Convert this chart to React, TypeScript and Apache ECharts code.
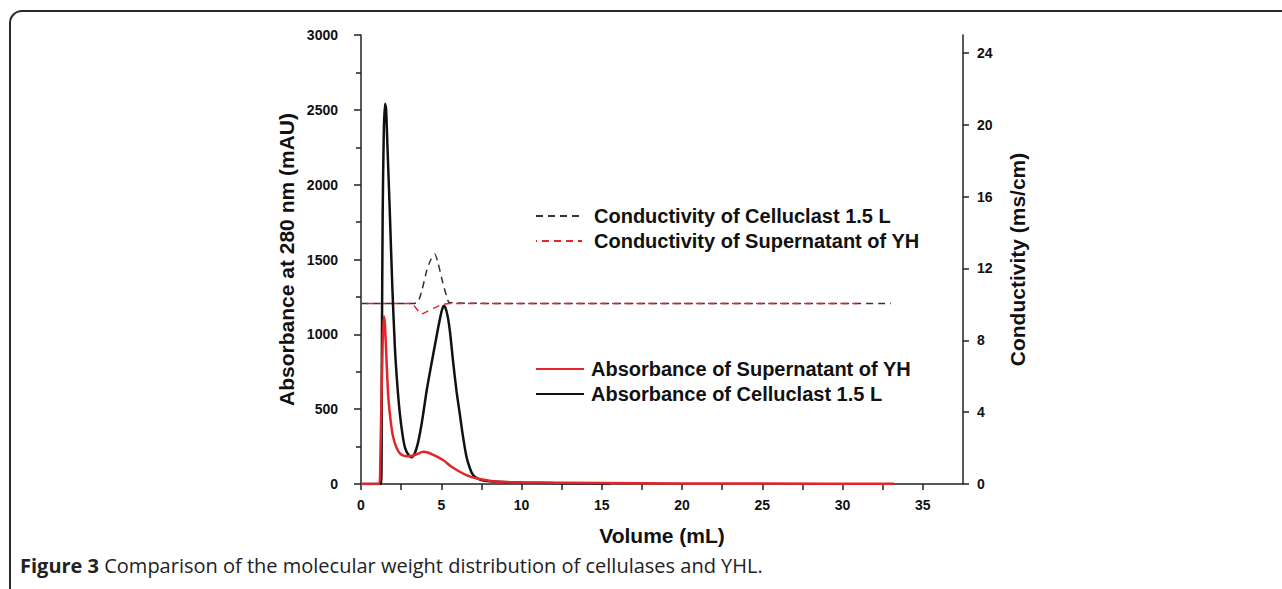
import React, { useEffect, useRef } from 'react';
import * as echarts from 'echarts';

// ---- data ----
const volAbsCelluclast = [0, 1.25, 1.3, 1.35, 1.42, 1.5, 1.56, 1.65, 1.8, 1.95, 2.11, 2.25, 2.42, 2.6, 2.75, 2.95, 3.15, 3.35, 3.56, 3.75, 3.87, 4.1, 4.4, 4.6, 4.8, 4.95, 5.05, 5.15, 5.25, 5.4, 5.55, 5.74, 5.95, 6.15, 6.35, 6.57, 6.8, 6.98, 7.3, 7.7, 8.5, 10, 12, 15.5];
const absCelluclast = [0, 0, 900, 1800, 2350, 2540, 2510, 2250, 1800, 1320, 915, 680, 470, 320, 240, 195, 178, 205, 280, 385, 465, 630, 810, 925, 1040, 1120, 1165, 1190, 1180, 1120, 1010, 815, 620, 471, 320, 182, 100, 60, 35, 22, 15, 10, 6, 3];

const volAbsYH = [0, 1.14, 1.2, 1.28, 1.35, 1.43, 1.5, 1.6, 1.7, 1.85, 2.0, 2.2, 2.42, 2.7, 3.05, 3.5, 3.87, 4.1, 4.5, 5.12, 5.6, 6.15, 6.6, 7.18, 8.0, 8.6, 10, 15, 20, 25, 33.2];
const absYH = [0, 0, 150, 600, 950, 1120, 1050, 800, 582, 420, 315, 245, 205, 188, 185, 200, 215, 212, 195, 160, 118, 82, 58, 38, 22, 15, 10, 6, 4, 3, 2];

const volCondCelluclast = [0, 3.3, 3.56, 3.8, 4.1, 4.35, 4.6, 4.8, 5.1, 5.35, 5.5, 10, 20, 33.0];
const condCelluclast = [10.05, 10.05, 10.15, 10.8, 11.9, 12.5, 12.8, 12.3, 11.2, 10.4, 10.1, 10.05, 10.05, 10.05];

const volCondYH = [0, 3.2, 3.36, 3.77, 4.1, 4.5, 5.0, 5.5, 10, 20, 30.9];
const condYH = [10.05, 10.05, 9.87, 9.47, 9.6, 9.78, 9.97, 10.05, 10.05, 10.05, 10.05];

const rightTicks = [0, 4, 8, 12, 16, 20, 24];

const NAME_COND_C = 'Conductivity of Celluclast 1.5 L';
const NAME_COND_Y = 'Conductivity of Supernatant of YH';
const NAME_ABS_Y = 'Absorbance of Supernatant of YH';
const NAME_ABS_C = 'Absorbance of Celluclast 1.5 L';

const zip = (xs: number[], ys: number[]) => xs.map((x, i) => [x, ys[i]]);

const FONT = '"Liberation Sans", Arial, Helvetica, sans-serif';
const AXIS = '#222';
const RED = '#e3242b';
const BLACK = '#111111';

export default function App() {
  const ref = useRef<HTMLDivElement>(null);
  useEffect(() => {
    const chart = echarts.init(ref.current!, null, { renderer: 'svg' });
    const titleText = { fontFamily: FONT, fontSize: 21, fontWeight: 'bold', color: '#111' };
    const tickText = { fontFamily: FONT, fontSize: 14, fontWeight: 'bold', color: '#111' };
    const hiddenSymbol = { color: 'rgba(0,0,0,0)', borderWidth: 0, opacity: 0 };
    chart.setOption({
      animation: false,
      backgroundColor: '#fff',
      textStyle: { fontFamily: FONT },
      grid: { left: 361, right: 319, top: 35, bottom: 105, containLabel: false },
      legend: [
        {
          data: [NAME_COND_C, NAME_COND_Y],
          orient: 'vertical',
          left: 535,
          top: 206,
          padding: 0,
          itemWidth: 46,
          itemHeight: 14,
          itemGap: 5,
          itemStyle: hiddenSymbol,
          textStyle: { fontFamily: FONT, fontSize: 20, fontWeight: 'bold', color: '#111', padding: [0, 0, 0, 7] },
          selectedMode: false,
        },
        {
          data: [NAME_ABS_Y, NAME_ABS_C],
          orient: 'vertical',
          left: 535,
          top: 359,
          padding: 0,
          itemWidth: 48,
          itemHeight: 14,
          itemGap: 5,
          itemStyle: hiddenSymbol,
          textStyle: { fontFamily: FONT, fontSize: 20, fontWeight: 'bold', color: '#111', padding: [0, 0, 0, 2] },
          selectedMode: false,
        },
      ],
      xAxis: {
        type: 'value',
        min: 0,
        max: 37.5,
        interval: 2.5,
        name: 'Volume (mL)',
        nameLocation: 'middle',
        nameGap: 41,
        nameTextStyle: titleText,
        axisLine: { show: true, onZero: false, lineStyle: { color: AXIS, width: 1.5 } },
        axisTick: { show: true, length: 6, lineStyle: { color: AXIS, width: 1.5 } },
        axisLabel: {
          ...tickText,
          margin: 14,
          showMaxLabel: false,
          formatter: (v: number) => (v % 5 === 0 ? String(v) : ''),
        },
        splitLine: { show: false },
      },
      yAxis: [
        {
          type: 'value',
          min: 0,
          max: 3000,
          interval: 500,
          position: 'left',
          name: 'Absorbance at 280 nm (mAU)',
          nameLocation: 'middle',
          nameGap: 64,
          nameTextStyle: titleText,
          axisLine: { show: true, lineStyle: { color: AXIS, width: 1.5 } },
          axisTick: { show: true, length: 7, lineStyle: { color: AXIS, width: 1.5 } },
          minorTick: { show: true, splitNumber: 2, length: 5, lineStyle: { color: AXIS, width: 1.5 } },
          axisLabel: { ...tickText, margin: 23, formatter: (v: number) => String(v) },
          splitLine: { show: false },
        },
        {
          type: 'value',
          min: 0,
          max: 25,
          interval: 4,
          position: 'right',
          name: 'Conductivity (ms/cm)',
          nameLocation: 'middle',
          nameGap: 44,
          nameRotate: 90,
          nameTextStyle: titleText,
          axisLine: { show: true, lineStyle: { color: AXIS, width: 1.5 } },
          axisTick: { show: true, length: 6, customValues: rightTicks, lineStyle: { color: AXIS, width: 1.5 } },
          axisLabel: {
            ...tickText,
            margin: 14,
            customValues: rightTicks,
            formatter: (v: number) => (v % 4 === 0 ? String(v) : ''),
          },
          splitLine: { show: false },
        },
      ],
      series: [
        {
          name: NAME_COND_C,
          type: 'line',
          yAxisIndex: 1,
          data: zip(volCondCelluclast, condCelluclast),
          symbol: 'none',
          smooth: 0.2,
          itemStyle: { color: '#333' },
          lineStyle: { color: '#333', width: 1.5, type: [7, 5] },
          z: 2,
        },
        {
          name: NAME_COND_Y,
          type: 'line',
          yAxisIndex: 1,
          data: zip(volCondYH, condYH),
          symbol: 'none',
          smooth: 0.2,
          itemStyle: { color: RED },
          lineStyle: { color: RED, width: 1.5, type: [7, 5], dashOffset: 6 },
          z: 2,
        },
        {
          name: NAME_ABS_C,
          type: 'line',
          yAxisIndex: 0,
          data: zip(volAbsCelluclast, absCelluclast),
          symbol: 'none',
          smooth: 0.25,
          itemStyle: { color: BLACK },
          lineStyle: { color: BLACK, width: 2.5 },
          z: 3,
        },
        {
          name: NAME_ABS_Y,
          type: 'line',
          yAxisIndex: 0,
          data: zip(volAbsYH, absYH),
          symbol: 'none',
          smooth: 0.2,
          itemStyle: { color: RED },
          lineStyle: { color: RED, width: 2.5 },
          z: 4,
        },
      ],
      graphic: [
        {
          type: 'rect',
          silent: true,
          shape: { x: 10, y: 11, width: 1400, height: 700, r: 12 },
          style: { fill: 'none', stroke: '#2a2a2a', lineWidth: 2 },
          z: 100,
        },
        {
          type: 'text',
          left: 20,
          top: 555,
          style: {
            text: '{b|Figure 3} Comparison of the molecular weight distribution of cellulases and YHL.',
            font: '20px "Open Sans", "Noto Sans", sans-serif',
            fill: '#222',
            rich: {
              b: { fontFamily: '"Open Sans", "Noto Sans", sans-serif', fontSize: 20, fontWeight: 'bold', fill: '#222' },
            },
          },
          z: 100,
        },
      ],
    });
    return () => chart.dispose();
  }, []);
  return (
    <div
      ref={ref}
      style={{ position: 'absolute', left: 0, top: 0, width: 1282, height: 589, background: '#fff' }}
    />
  );
}
